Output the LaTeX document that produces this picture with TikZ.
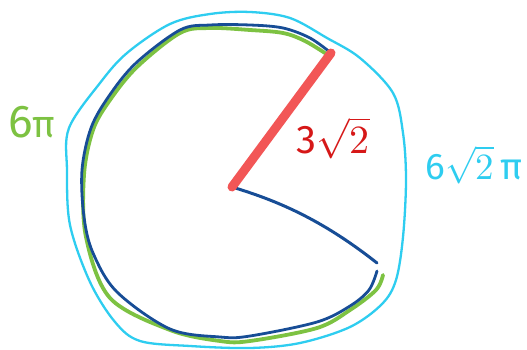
\documentclass[tikz,border=0pt]{standalone}
\usepackage{fontspec}
\usepackage{unicode-math}
\setmainfont{Fira Sans}
\setsansfont{Fira Sans}
\definecolor{inkblue}{HTML}{174D96}
\definecolor{inkgreen}{HTML}{7DC242}
\definecolor{inkcyan}{HTML}{2ECDF0}
\definecolor{inkred}{HTML}{F25656}
\definecolor{txtred}{HTML}{D61818}
\begin{document}
\begin{tikzpicture}[x=1pt,y=-1pt,
  stroke/.style={line cap=round,line join=round},
  lbl/.style={inner sep=0pt,font=\fontsize{46}{50}\selectfont}]
\useasboundingbox (0,0) rectangle (527,350);
\fill[white] (0,0) rectangle (527,350);
\coordinate (O) at (232,187);
\coordinate (R) at (331,53);
\coordinate (B) at (377,263);
% cyan outer loop
\draw[stroke,inkcyan,line width=2.3pt] plot[smooth cycle,tension=0.55] coordinates {
 (250,12) (290,18) (327,38) (360,58) (393,93) (403,133) (406,180) (403,237)
 (396,280) (382,304) (350,327) (300,343) (250,348) (190,346) (140,341) (115,322)
 (90,282) (70,225) (67,170) (69,128) (100,83) (127,53) (170,24) (210,14)};
% green circle
\draw[stroke,inkgreen,line width=3.8pt] plot[smooth,tension=0.55] coordinates {
 (328,55) (305,41) (283,33) (250,30) (210,28) (180,33) (137,67) (110,100)
 (93,130) (84,175) (86,237) (110,298) (170,330) (220,341) (250,341)
 (317,328) (350,310) (376,290) (383,275)};
% blue sector arc
\draw[stroke,inkblue,line width=2.8pt] plot[smooth,tension=0.55] coordinates {
 (R) (310,38) (283,28) (250,25) (210,25) (180,30) (136,63) (109,96)
 (91,128) (82,170) (84,217) (93,253) (117,292) (170,329) (220,337) (250,336)
 (317,322) (350,306) (369,290) (377,271)};
% blue radius
\draw[stroke,inkblue,line width=3pt] (O) .. controls (275,200) and (320,218) .. (B);
% red radius
\draw[stroke,inkred,line width=9pt] (O) -- (R);
% labels
\node[lbl,text=inkgreen] (g) at (32,122) {6\fontsize{38}{40}\selectfont π};
\node[lbl,text=txtred,font=\fontsize{40}{44}\selectfont] (r) at (333,138) {3$\sqrt{2}$};
\node[lbl,text=inkcyan,font=\fontsize{37}{40}\selectfont] (c) at (474,165) {6$\sqrt{2}$\,π};
\end{tikzpicture}
\end{document}
